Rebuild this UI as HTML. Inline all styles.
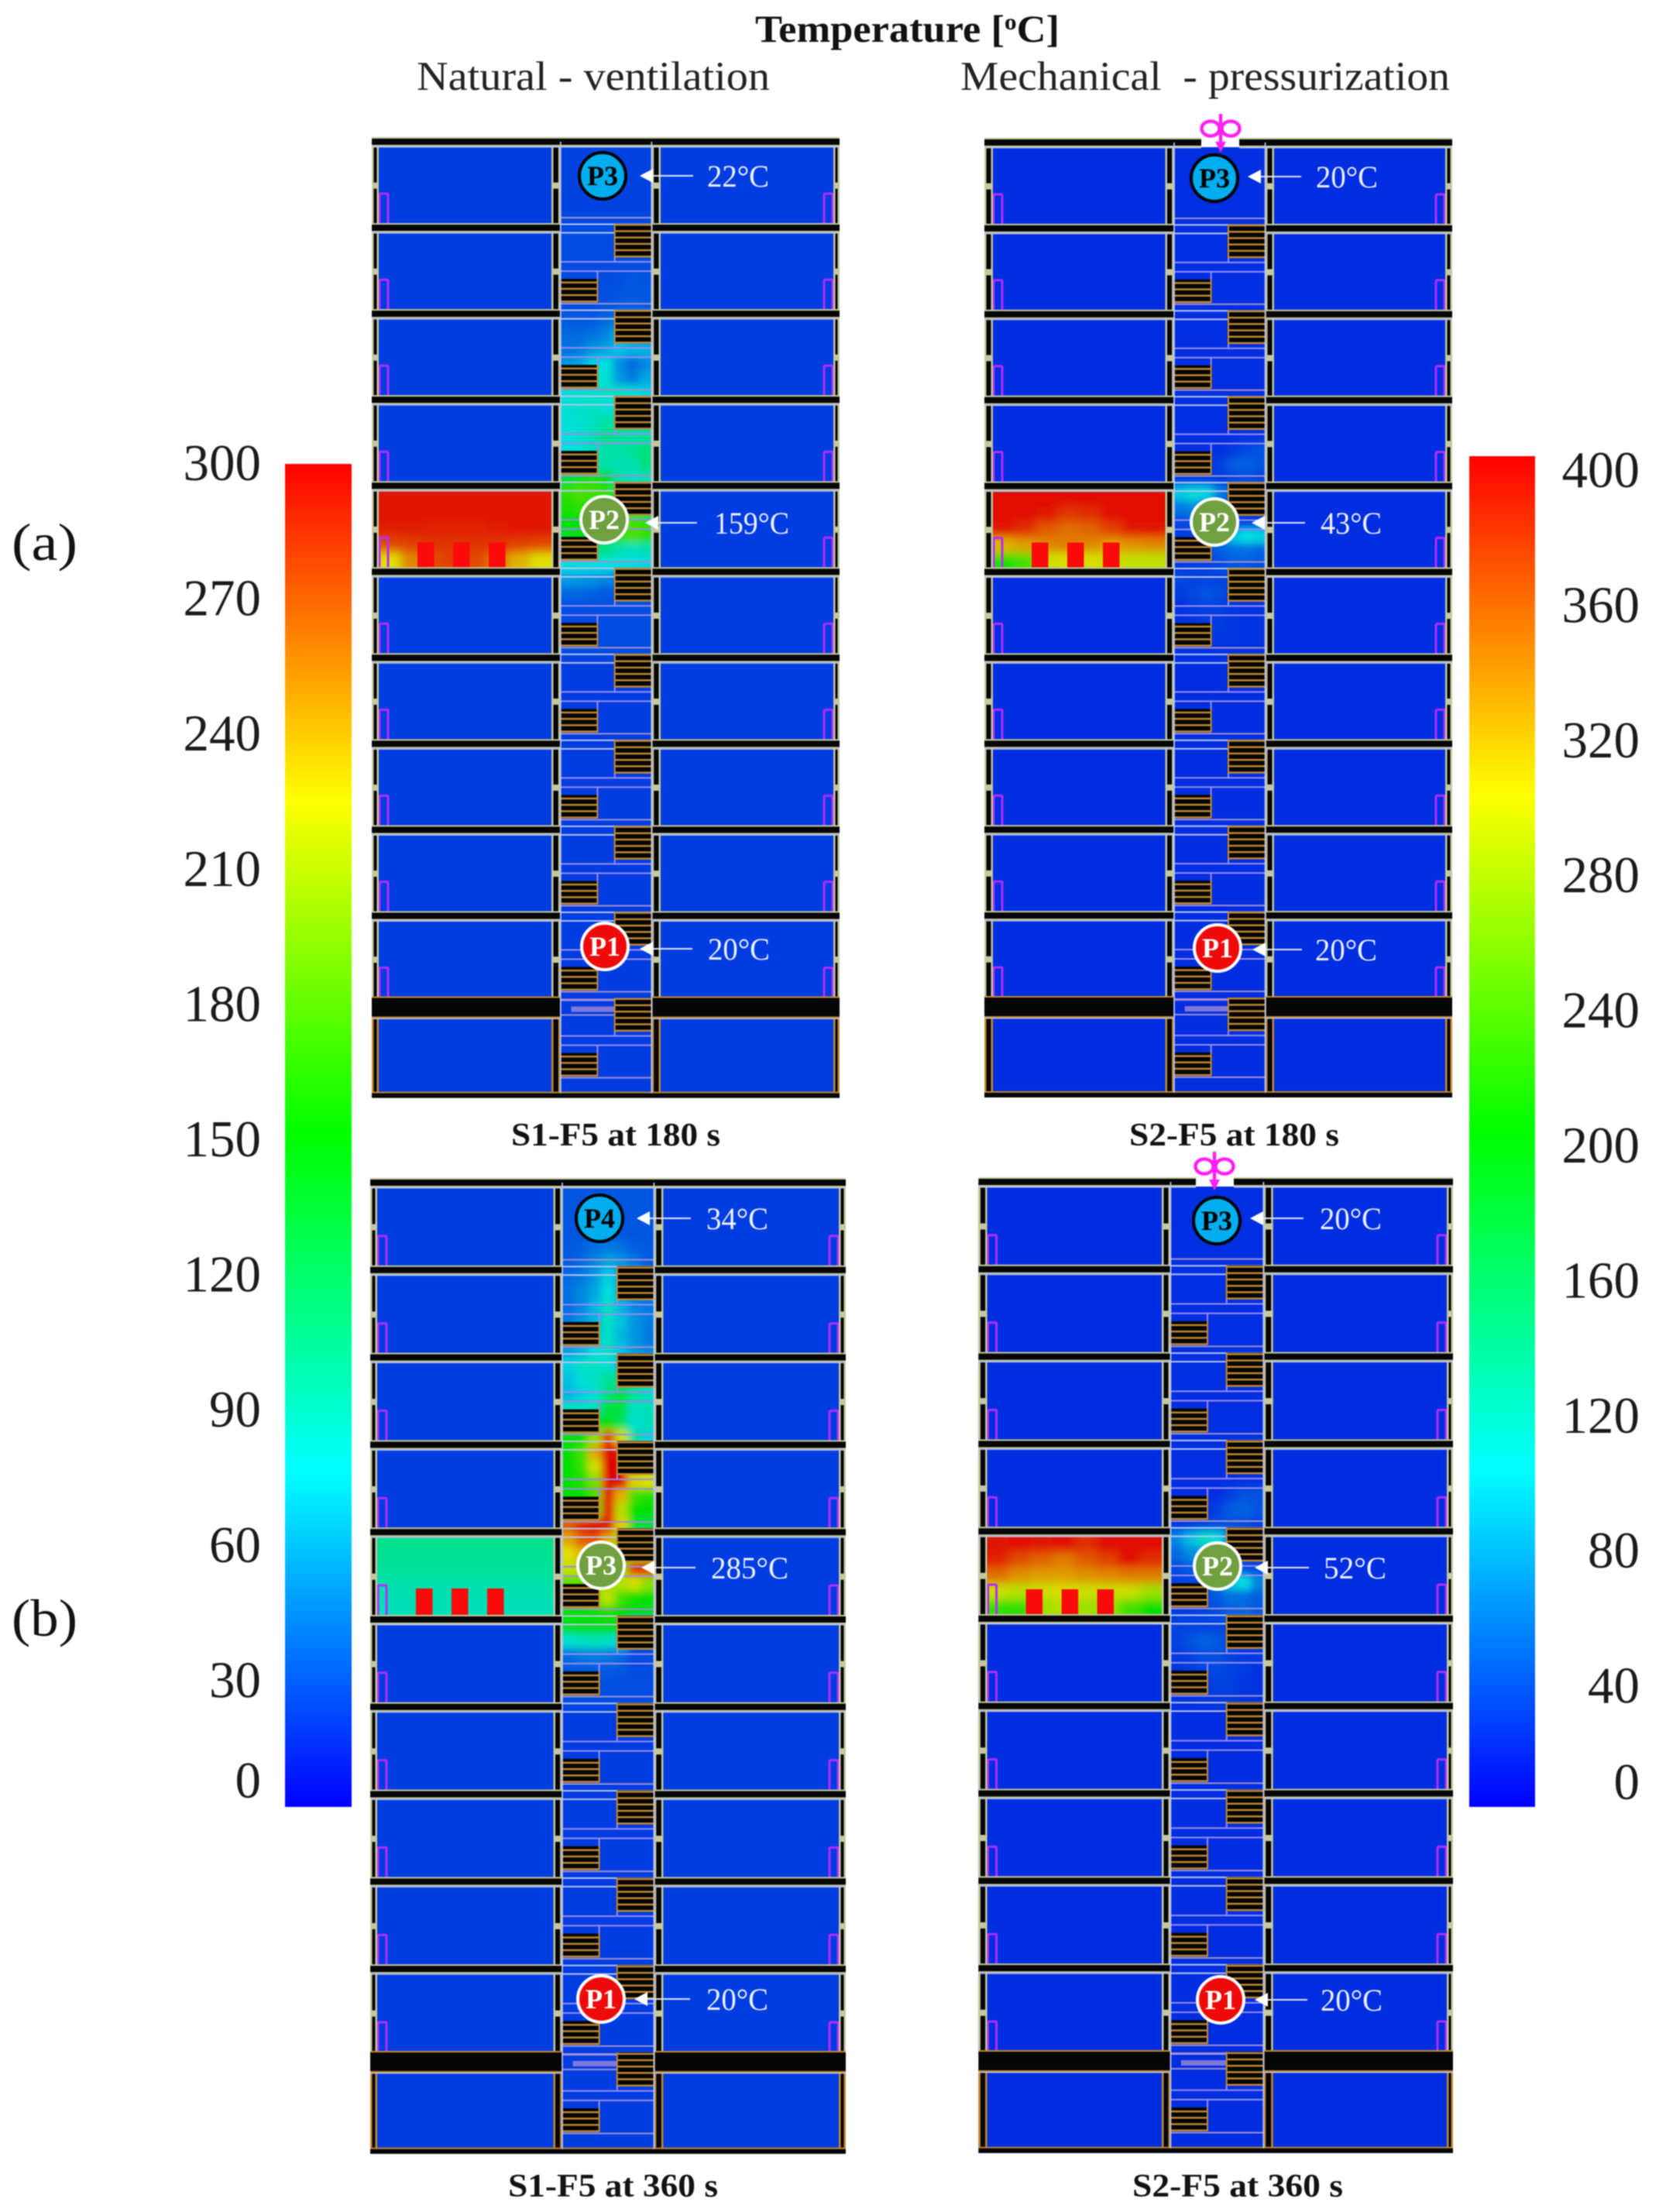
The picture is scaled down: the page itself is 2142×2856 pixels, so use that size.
<!DOCTYPE html>
<html lang="en">
<head>
<meta charset="utf-8">
<title>Temperature contours: natural ventilation vs mechanical pressurization</title>
<style>
html,body{margin:0;padding:0;background:#fff;}
#stage{display:block;width:2142px;height:2856px;filter:blur(0.8px);}
text{font-family:"Liberation Serif",serif;}
</style>
</head>
<body>
<svg id="stage" xmlns="http://www.w3.org/2000/svg" width="2142" height="2856" viewBox="0 0 2142 2856">
  <defs>
    <filter id="blurStair" filterUnits="userSpaceOnUse" x="0" y="0" width="2142" height="2856"><feGaussianBlur stdDeviation="5"/></filter>
    <filter id="blurRoom" filterUnits="userSpaceOnUse" x="0" y="0" width="2142" height="2856"><feGaussianBlur stdDeviation="6"/></filter>
  </defs>
  <rect x="0" y="0" width="2142" height="2856" fill="#fff"/>
  <text x="975" y="54" font-size="50" font-weight="bold" fill="#111" textLength="393" lengthAdjust="spacingAndGlyphs">Temperature [<tspan font-size="30" dy="-16">o</tspan><tspan dy="16">C]</tspan></text>
  <text x="538" y="116" font-size="53" fill="#222" textLength="456" lengthAdjust="spacingAndGlyphs">Natural - ventilation</text>
  <text x="1240" y="116" font-size="53" fill="#222" textLength="632" lengthAdjust="spacingAndGlyphs">Mechanical&#160; - pressurization</text>
  <text x="15" y="723" font-size="68" fill="#111" textLength="85" lengthAdjust="spacingAndGlyphs">(a)</text>
  <text x="15" y="2112" font-size="68" fill="#111" textLength="85" lengthAdjust="spacingAndGlyphs">(b)</text>
  <text x="660" y="1479" font-size="42" font-weight="bold" fill="#111" textLength="270" lengthAdjust="spacingAndGlyphs">S1-F5 at 180 s</text>
  <text x="1458" y="1479" font-size="42" font-weight="bold" fill="#111" textLength="271" lengthAdjust="spacingAndGlyphs">S2-F5 at 180 s</text>
  <text x="656" y="2836" font-size="42" font-weight="bold" fill="#111" textLength="271" lengthAdjust="spacingAndGlyphs">S1-F5 at 360 s</text>
  <text x="1462" y="2836" font-size="42" font-weight="bold" fill="#111" textLength="272" lengthAdjust="spacingAndGlyphs">S2-F5 at 360 s</text>
  <g id="plots"></g>
  <g id="scales"></g>
</svg>
<script>
// ---- chart data ----
const scaleLeftTicks = [300,270,240,210,180,150,120,90,60,30,0];
const scaleRightTicks = [400,360,320,280,240,200,160,120,80,40,0];
const probeNamesA = ['P3','P2','P1'];
const probeTempsA = [22,159,20];
const probeNamesB = ['P3','P2','P1'];
const probeTempsB = [20,43,20];
const probeNamesC = ['P4','P3','P1'];
const probeTempsC = [34,285,20];
const probeNamesD = ['P3','P2','P1'];
const probeTempsD = [20,52,20];

// Stairwell temperature (deg C): 7 columns, 6 rows per floor, from the top floor down
const stairFieldA = [
[22,22,22,22,22,22,22],[22,22,22,22,22,22,22],[22,22,22,22,22,22,22],[22,22,22,22,22,22,22],[22,22,22,22,22,22,22],[24,24,24,24,24,24,24],
[25,25,25,25,25,25,25],[25,25,25,25,25,25,25],[25,25,25,25,26,26,26],[25,25,25,25,26,28,27],[25,25,25,26,27,30,28],[26,26,26,28,30,32,30],
[30,30,30,35,40,35,30],[35,35,38,45,60,45,38],[38,40,50,55,65,60,60],[50,55,70,75,48,35,45],[60,70,80,80,50,40,55],[78,80,82,85,82,78,70],
[80,82,85,78,80,75,70],[78,80,85,95,90,80,80],[78,82,90,105,100,95,100],[75,78,88,95,95,100,110],[78,82,90,95,90,92,110],[135,155,160,140,95,85,90],
[165,175,170,165,130,110,100],[160,165,150,150,130,110,100],[150,150,150,155,170,175,165],[140,145,140,150,165,175,165],[105,115,105,105,90,85,90],[75,75,75,75,75,75,72],
[52,50,48,44,40,36,36],[34,34,32,30,28,28,28],[26,26,26,26,26,26,26],[25,25,25,25,25,25,25],[25,25,25,25,25,25,25],[25,25,25,25,25,25,25]
];
const stairFieldB = [
[20,20,20,20,20,20,20],[20,20,20,20,20,20,20],[20,20,20,20,20,20,20],[20,20,20,20,20,20,20],[20,20,20,20,20,20,20],[20,20,20,20,20,20,20],
[20,20,20,20,20,20,20],[20,20,20,20,20,20,20],[20,20,20,20,20,20,20],[20,20,20,20,20,20,20],[20,20,20,20,20,20,20],[20,20,20,20,20,20,20],
[20,20,20,20,20,20,20],[20,20,20,20,20,20,20],[20,20,20,20,20,20,20],[20,20,20,20,20,20,20],[20,20,20,20,20,20,20],[20,20,20,20,20,20,20],
[20,20,20,20,20,20,20],[20,20,20,20,20,20,20],[20,20,20,20,21,22,22],[20,20,20,21,26,32,36],[20,20,21,28,40,44,38],[26,26,26,26,30,34,30],
[90,105,95,55,35,28,28],[55,60,45,32,28,25,24],[32,36,38,40,32,26,26],[26,28,32,50,85,100,95],[26,26,32,42,48,50,45],[26,26,28,32,38,40,35],
[32,30,30,30,28,26,26],[26,32,38,34,26,24,24],[22,26,30,28,24,22,22],[22,24,26,26,24,22,22],[22,22,24,24,24,22,22],[22,22,22,22,22,22,22]
];
const stairFieldC = [
[28,28,28,28,28,28,28],[28,28,28,28,28,28,28],[28,28,28,28,28,28,28],[28,28,30,30,30,28,28],[30,32,38,42,38,32,30],[30,35,45,55,50,40,30],
[35,40,50,70,55,40,35],[38,45,55,75,55,42,38],[35,45,60,85,60,45,40],[40,50,60,85,65,50,42],[45,55,65,85,60,50,40],[50,60,75,85,65,50,45],
[70,85,85,80,60,60,60],[65,78,85,100,100,90,85],[60,70,80,110,130,100,85],[85,85,90,130,130,85,88],[120,120,130,150,120,80,90],[150,150,200,280,220,100,70],
[150,170,245,298,290,150,130],[150,165,220,298,295,180,170],[150,160,190,298,298,230,225],[150,150,170,290,240,170,160],[150,150,160,295,210,150,150],[270,290,298,295,230,135,130],
[245,270,275,245,190,150,140],[225,240,240,215,180,160,150],[215,210,200,220,200,290,290],[180,180,190,200,210,220,195],[165,165,190,215,170,155,150],[150,150,150,160,150,145,140],
[140,145,145,145,140,30,25],[80,85,90,85,70,25,25],[35,40,42,40,35,25,25],[28,30,30,30,28,25,25],[26,26,26,26,26,26,26],[25,25,25,25,25,25,25]
];
const stairFieldD = [
[20,20,20,20,20,20,20],[20,20,20,20,20,20,20],[20,20,20,20,20,20,20],[20,20,20,20,20,20,20],[20,20,20,20,20,20,20],[20,20,20,20,20,20,20],
[20,20,20,20,20,20,20],[20,20,20,20,20,20,20],[20,20,20,20,20,20,20],[20,20,20,20,20,20,20],[20,20,20,20,20,20,20],[20,20,20,20,20,20,20],
[20,20,20,20,20,20,20],[20,20,20,20,20,20,20],[20,20,20,20,20,20,20],[20,20,20,20,20,20,20],[20,20,20,20,20,20,20],[20,20,20,20,20,20,20],
[20,20,20,20,20,20,20],[20,20,20,20,20,20,20],[20,20,20,20,21,22,22],[20,20,20,21,28,36,36],[20,20,21,28,40,44,38],[24,26,28,32,36,34,28],
[60,85,115,105,50,34,28],[48,62,65,46,34,28,26],[34,40,40,42,38,32,30],[30,30,34,50,85,100,60],[28,30,34,40,50,48,42],[26,28,30,34,42,46,38],
[30,30,30,30,30,28,26],[30,36,44,40,30,26,26],[26,30,36,36,30,26,26],[24,26,30,32,30,26,22],[22,24,26,30,30,24,22],[22,22,24,26,26,24,22]
];

// Fire-room temperature (deg C): 8 columns, 5 rows
const fireRoomA = [
[292,292,292,292,292,292,292,292],[292,292,292,292,292,292,292,292],[290,290,288,288,288,290,292,292],[275,278,282,282,282,282,278,275],[225,255,275,280,275,260,240,225]
];
const fireRoomB = [
[395,395,395,395,395,395,395,395],[395,395,390,375,380,395,395,395],[390,380,360,350,355,370,390,390],[320,330,340,345,340,330,335,340],[210,230,290,295,295,290,285,285]
];
const fireRoomC = [
[103,103,103,103,103,103,103,103],[100,100,100,100,100,100,100,100],[96,96,96,96,96,96,96,96],[92,92,92,92,92,92,92,92],[88,88,88,88,88,88,88,88]
];
const fireRoomD = [
[390,395,390,395,380,395,395,395],[385,365,355,345,360,370,395,380],[350,335,330,330,335,340,345,345],[290,280,290,295,290,290,290,270],[220,220,270,280,270,270,230,200]
];

// ---- colour map ----
const NS = 'http://www.w3.org/2000/svg';
const stops = [[0,0,0,255],[0.25,0,255,255],[0.5,0,255,0],[0.75,255,255,0],[1,255,0,0]];
function colorAt(frac, gain) {
  const f = Math.max(0, Math.min(1, frac));
  for (let i = 1; i < stops.length; i++) {
    if (f <= stops[i][0]) {
      const a = stops[i-1], b = stops[i], t = (f - a[0]) / (b[0] - a[0]);
      return 'rgb(' + [1,2,3].map(k => Math.round((a[k] + (b[k]-a[k]) * t) * gain)).join(',') + ')';
    }
  }
  return 'rgb(255,0,0)';
}
function mk(tag, attrs, parent, txt) {
  const e = document.createElementNS(NS, tag);
  for (const k in attrs) e.setAttribute(k, attrs[k]);
  if (txt !== undefined) e.textContent = txt;
  if (parent) parent.appendChild(e);
  return e;
}
const defs = document.querySelector('defs');
const plots = document.getElementById('plots');
const scales = document.getElementById('scales');

// ---- colour scales ----
function drawScale(id, ticks, vmax, x0, x1, yTop, yBot, labelRight, firstY, step, zeroY) {
  const grad = mk('linearGradient', {id: id, x1: 0, y1: 1, x2: 0, y2: 0}, defs);
  stops.forEach(s => mk('stop', {offset: s[0], 'stop-color': colorAt(s[0], 1)}, grad));
  const bar = mk('rect', {x: x0, y: yTop, width: x1 - x0, height: yBot - yTop, fill: 'url(#' + id + ')'}, scales);
  
  
  const tickY = v => Math.min(firstY + (vmax - v) * step, zeroY);
  ticks.forEach(v => {
    const t = mk('text', {x: labelRight, y: tickY(v) + 24, 'font-size': 67, fill: '#1a1a1a', 'text-anchor': 'end'}, scales, String(v));
    
    
  });
}
drawScale('scale-left', scaleLeftTicks, 300, 368, 454, 599, 2333, 337, 596, 174.6 / 30, 2297);
drawScale('scale-right', scaleRightTicks, 400, 1897, 1982, 589, 2333, 2117, 605, 174.4 / 40, 2299);

// ---- panels ----
const BEIGE = '#c6c8a0', ORANGE = '#c48a30', LAV = '#9a8cf0', PALE = '#b8c4f0', INK = '#050505';
function drawPanel(o) {
  const g = mk('g', {}, plots);
  
  
  const [L, r1, r2, s1, s2, r3, r4, R] = o.x;
  const p = o.pitch, b = k => o.b0 + k * p;
  const yEnd = b(11) + 7;
  const base = colorAt(20 / o.vmax, 0.88);
  // rooms + stair base
  const bg = mk('rect', {x: L, y: b(0), width: R - L, height: yEnd + 6 - b(0), fill: base}, g);
  
  

  // stairwell heat field
  const clipId = 'clip-' + o.id;
  const cp = mk('clipPath', {id: clipId}, defs);
  mk('rect', {x: s1, y: b(0), width: s2 - s1, height: yEnd - b(0)}, cp);
  const clipG = mk('g', {'clip-path': 'url(#' + clipId + ')'}, g);
  const heat = mk('g', {filter: 'url(#blurStair)'}, clipG);
  
  
  const cols = 7, rowsPerFloor = 6;
  const cw = (s2 - s1) / cols, ch = p / rowsPerFloor;
  const colX = i => s1 + i * cw, rowY = j => b(0) + j * ch;
  o.stair.forEach((row, j) => row.forEach((t, i) => {
    const pad0 = i === 0 ? 25 : 0, pad1 = i === cols - 1 ? 25 : 0;
    const c = mk('rect', {x: colX(i) - pad0, y: rowY(j), width: cw + pad0 + pad1 + 0.5, height: ch + 0.5, fill: colorAt(t / o.vmax, 0.88), 'shape-rendering': 'crispEdges'}, heat);
    
    
  }));

  // fire room
  const fy0 = b(4) + 7, fy1 = b(5) - 5;
  const rid = 'clip-room-' + o.id;
  const rp = mk('clipPath', {id: rid}, defs);
  mk('rect', {x: r1, y: fy0, width: r2 - r1, height: fy1 - fy0}, rp);
  const roomClip = mk('g', {'clip-path': 'url(#' + rid + ')'}, g);
  const room = mk('g', {filter: 'url(#blurRoom)'}, roomClip);
  
  
  const fc = o.fire[0].length, fr = o.fire.length;
  const fw = (r2 - r1) / fc, fh = (fy1 - fy0) / fr;
  o.fire.forEach((row, j) => row.forEach((t, i) => {
    const px0 = i === 0 ? 30 : 0, px1 = i === fc - 1 ? 30 : 0, py0 = j === 0 ? 30 : 0, py1 = j === fr - 1 ? 30 : 0;
    const c = mk('rect', {x: r1 + i * fw - px0, y: fy0 + j * fh - py0, width: fw + px0 + px1 + 0.5, height: fh + py0 + py1 + 0.5, fill: colorAt(t / o.vmax, 0.88), 'shape-rendering': 'crispEdges'}, room);
    
    
  }));
  // burners
  [50, 96, 142].forEach(dx => {
    const bn = mk('rect', {x: r1 + dx, y: fy1 - o.burnerH, width: 21.5, height: o.burnerH, fill: '#fa0a0a'}, g);
    
    
  });

  // doors
  const doors = mk('g', {fill: 'none', 'stroke-width': 3}, g);
  
  
  for (let k = 0; k < 10; k++) {
    const yb = b(k + 1) - 6, yt = yb - 38;
    mk('path', {d: `M${r1 + 1} ${yb}V${yt + 2}Q${r1 + 1} ${yt} ${r1 + 3} ${yt}H${r1 + 11}Q${r1 + 12} ${yt} ${r1 + 12} ${yt + 2}V${yb}`, stroke: '#b42cff'}, doors);
    mk('path', {d: `M${r4 - 12} ${yb}V${yt + 2}Q${r4 - 12} ${yt} ${r4 - 10} ${yt}H${r4 - 2}Q${r4 - 1} ${yt} ${r4 - 1} ${yt + 2}V${yb}`, stroke: '#b42cff'}, doors);
  }

  // walls
  const walls = mk('g', {}, g);
  
  
  function vWall(x0, x1, y0, y1, edge) {
    mk('rect', {x: x0, y: y0, width: x1 - x0, height: y1 - y0, fill: INK}, walls);
    mk('rect', {x: x0, y: y0, width: 2.5, height: y1 - y0, fill: edge}, walls);
    mk('rect', {x: x1 - 2.5, y: y0, width: 2.5, height: y1 - y0, fill: edge}, walls);
  }
  [[L, r1], [r2, s1], [s2, r3], [r4, R]].forEach(w => {
    vWall(w[0], w[1], b(0), b(10), BEIGE);
    vWall(w[0], w[1], b(10) + 14, yEnd, ORANGE);
    for (let k = 0; k < 10; k++) mk('rect', {x: w[0], y: b(k) + p * 0.51 - 4, width: w[1] - w[0], height: 8, fill: BEIGE}, walls);
  });
  // floor bands
  function band(x0, x1, y, h, edge) {
    mk('rect', {x: x0, y: y - h / 2 - 2, width: x1 - x0, height: h + 4, fill: edge}, walls);
    mk('rect', {x: x0, y: y - h / 2, width: x1 - x0, height: h, fill: INK}, walls);
    mk('rect', {x: x0, y: y + h / 2 + 2, width: x1 - x0, height: 1.5, fill: PALE}, walls);
  }
  for (let k = 0; k <= 9; k++) {
    if (k === 0) {
      if (o.fan) {
        band(L, o.fan[0], b(0), 8, BEIGE);
        band(o.fan[1], R, b(0), 8, BEIGE);
        const gap = mk('rect', {x: o.fan[0], y: b(0) - 7, width: o.fan[1] - o.fan[0], height: 13, fill: '#fff'}, walls);
        
        
      } else {
        band(L, R, b(0), 8, BEIGE);
      }
    } else {
      band(L, s1, b(k), 8, BEIGE);
      band(s2, R, b(k), 8, BEIGE);
    }
  }
  // basement slab
  band(L, s1, b(10) + 7, 24, ORANGE);
  band(s2, R, b(10) + 7, 24, ORANGE);
  // base slab
  mk('rect', {x: L, y: yEnd - 2, width: R - L, height: 2, fill: ORANGE}, walls);
  mk('rect', {x: L, y: yEnd, width: R - L, height: 6, fill: INK}, walls);

  // stair lines + flights
  const stairs = mk('g', {}, g);
  
  
  function flight(x0, x1, y0, y1) {
    mk('rect', {x: x0, y: y0, width: x1 - x0, height: y1 - y0, fill: INK}, stairs);
    mk('rect', {x: x0 - 1, y: y0, width: 2, height: y1 - y0, fill: ORANGE}, stairs);
    mk('rect', {x: x1 - 1, y: y0, width: 2, height: y1 - y0, fill: ORANGE}, stairs);
    for (let yy = y1 - 1; yy > y0; yy -= 8.2) mk('rect', {x: x0, y: yy - 1, width: x1 - x0, height: 2.4, fill: ORANGE}, stairs);
  }
  const fl = s1 + 48, fr2 = s2 - 48;
  for (let k = 0; k <= 10; k++) {
    const yy = b(k);
    if (k > 0 && k !== 10) {
      mk('rect', {x: s1, y: yy - 5.5, width: s2 - s1, height: 2, fill: PALE}, stairs);
      mk('rect', {x: s1, y: yy + 5.5, width: s2 - s1, height: 2, fill: PALE}, stairs);
    }
    if (k === 10) {
      mk('rect', {x: s1, y: yy - 4, width: fr2 - s1, height: 3, fill: '#b090d8'}, stairs);
      mk('rect', {x: s1 + 14, y: yy + 6, width: fr2 - s1 - 14, height: 7, fill: '#8078d8'}, stairs);
      mk('rect', {x: s1, y: yy + 16, width: s2 - s1, height: 2, fill: '#a090d0'}, stairs);
    }
    if (k > 0) {
      flight(fr2, s2, yy - 5, yy + 38 * p / 111);
      mk('rect', {x: fr2 - 1, y: yy + 38, width: 2, height: 7 * p / 111, fill: LAV}, stairs);
      mk('rect', {x: s1, y: yy + 43 * p / 111, width: s2 - s1, height: 2, fill: LAV}, stairs);
      mk('rect', {x: s1, y: yy + 55 * p / 111, width: s2 - s1, height: 2, fill: LAV}, stairs);
      mk('rect', {x: fl - 1, y: yy + 55 * p / 111, width: 2, height: 12, fill: LAV}, stairs);
      flight(s1, fl, yy + 66 * p / 111, yy + 96 * p / 111);
    }
    mk('rect', {x: s1, y: yy + 97 * p / 111, width: s2 - s1, height: 2, fill: '#a090d0'}, stairs);
  }
  // stair edge lines
  mk('rect', {x: s1 - 0.5, y: b(0), width: 1.8, height: yEnd - b(0), fill: PALE}, stairs);
  mk('rect', {x: s2 - 1.3, y: b(0), width: 1.8, height: yEnd - b(0), fill: PALE}, stairs);

  // probes
  o.probes.forEach((q, i) => {
    const pg = mk('g', {}, g);
    
    
    const styles = {cold: ['#00aeef', '#000', '#000'], warm: ['#70a040', '#fff', '#fff'], base: ['#ee0a0a', '#fff', '#fff']}[q.kind];
    mk('circle', {cx: q.cx, cy: q.cy, r: 30, fill: styles[0], stroke: styles[1], 'stroke-width': 4}, pg);
    mk('text', {x: q.cx, y: q.cy + 12, 'font-size': 36, 'font-weight': 'bold', fill: styles[2], 'text-anchor': 'middle'}, pg, o.names[i]);
    mk('line', {x1: q.tip + 14, y1: q.ay, x2: q.tail, y2: q.ay, stroke: '#dfe4f5', 'stroke-width': 2}, pg);
    mk('polygon', {points: `${q.tip},${q.ay} ${q.tip + 17},${q.ay - 9} ${q.tip + 17},${q.ay + 9}`, fill: '#fff'}, pg);
    const lbl = mk('text', {x: q.tx, y: q.ay + 14, 'font-size': 40, fill: '#eef1fb', textLength: q.tw, lengthAdjust: 'spacingAndGlyphs'}, pg, o.temps[i] + '\u00B0C');
    
    
  });

  // fan
  if (o.fan) {
    const fg = mk('g', {fill: 'none', stroke: '#ff20f0', 'stroke-width': 4.5}, g);
    
    
    const fx = o.fanX, t = o.fanTop;
    mk('ellipse', {cx: fx - 13, cy: t + 19, rx: 11.5, ry: 9.5}, fg);
    mk('ellipse', {cx: fx + 13, cy: t + 19, rx: 11.5, ry: 9.5}, fg);
    mk('line', {x1: fx, y1: t, x2: fx, y2: t + 42}, fg);
    mk('polygon', {points: `${fx - 7},${t + 36} ${fx + 7},${t + 36} ${fx},${t + 50}`, fill: '#ff20f0', stroke: 'none'}, fg);
  }
}

drawPanel({
  id: 's1-180', x: [480, 489, 712, 723.4, 841.7, 853, 1076, 1084], b0: 183, pitch: 111.05, vmax: 300, burnerH: 33,
  stair: stairFieldA, fire: fireRoomA, names: probeNamesA, temps: probeTempsA,
  probes: [
    {kind: 'cold', cx: 778, cy: 227, tip: 826, tail: 895, ay: 227, tx: 913, tw: 80},
    {kind: 'warm', cx: 780, cy: 671, tip: 833, tail: 900, ay: 675, tx: 922, tw: 97},
    {kind: 'base', cx: 781, cy: 1222, tip: 826, tail: 894, ay: 1225, tx: 914, tw: 80}
  ]
});
drawPanel({
  id: 's2-180', x: [1271, 1282, 1504.5, 1515.6, 1634, 1645, 1866, 1875], b0: 184, pitch: 110.9, vmax: 400, burnerH: 33,
  stair: stairFieldB, fire: fireRoomB, names: probeNamesB, temps: probeTempsB,
  fan: [1551, 1600], fanX: 1576, fanTop: 147,
  probes: [
    {kind: 'cold', cx: 1568, cy: 230, tip: 1611, tail: 1680, ay: 228, tx: 1699, tw: 80},
    {kind: 'warm', cx: 1568, cy: 674, tip: 1616, tail: 1685, ay: 675, tx: 1705, tw: 79},
    {kind: 'base', cx: 1572, cy: 1224, tip: 1617, tail: 1681, ay: 1226, tx: 1698, tw: 80}
  ]
});
drawPanel({
  id: 's1-360', x: [478, 487, 714.5, 725.6, 844.8, 856.4, 1083, 1092], b0: 1527, pitch: 112.8, vmax: 300, burnerH: 35,
  stair: stairFieldC, fire: fireRoomC, names: probeNamesC, temps: probeTempsC,
  probes: [
    {kind: 'cold', cx: 774, cy: 1573, tip: 822, tail: 892, ay: 1573, tx: 912, tw: 80},
    {kind: 'warm', cx: 776, cy: 2021, tip: 828, tail: 898, ay: 2024, tx: 918, tw: 100},
    {kind: 'base', cx: 776, cy: 2581, tip: 819, tail: 891, ay: 2581, tx: 912, tw: 80}
  ]
});
drawPanel({
  id: 's2-360', x: [1263.4, 1274.6, 1500, 1511, 1631.7, 1643.7, 1868, 1876], b0: 1526, pitch: 112.8, vmax: 400, burnerH: 33,
  stair: stairFieldD, fire: fireRoomD, names: probeNamesD, temps: probeTempsD,
  fan: [1544, 1593], fanX: 1568, fanTop: 1487,
  probes: [
    {kind: 'cold', cx: 1571, cy: 1576, tip: 1614, tail: 1683, ay: 1573, tx: 1704, tw: 80},
    {kind: 'warm', cx: 1572, cy: 2022, tip: 1620, tail: 1690, ay: 2024, tx: 1709, tw: 81},
    {kind: 'base', cx: 1576, cy: 2582, tip: 1620, tail: 1688, ay: 2582, tx: 1705, tw: 80}
  ]
});
</script>
</body>
</html>
